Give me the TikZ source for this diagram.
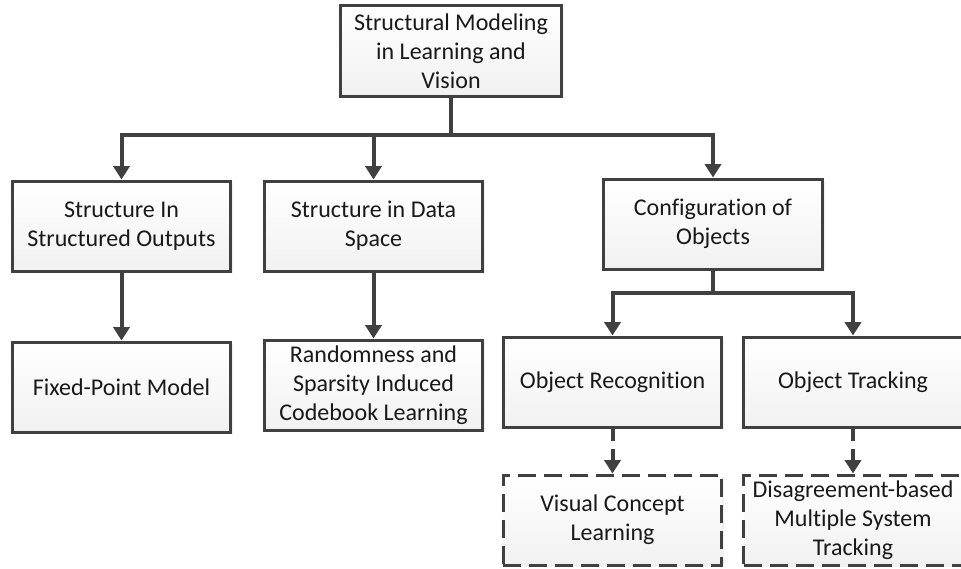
\documentclass[tikz,border=0pt]{standalone}
\usepackage{fontspec}
\setmainfont{Carlito}[Ligatures=NoCommon]
\usetikzlibrary{positioning,arrows.meta,shadows}
\definecolor{linegray}{HTML}{404040}

\begin{document}
\begin{tikzpicture}[
        % define styles
        x=0.3mm, y=-0.3mm,
        box/.style={
            rectangle,
            draw=linegray,
            line width=0.9mm,
            top color=white,
            bottom color=gray!11,
            drop shadow={shadow xshift=0.7mm, shadow yshift=-0.7mm, opacity=0.12, fill=gray},
            minimum width=65.5mm,
            minimum height=27mm,
            align=center,
            text=black!90,
            font=\fontsize{20.5}{24.8}\selectfont
        },
        dbox/.style={
            box,
            dash pattern=on 5.4mm off 2.4mm
        },
        line/.style={
            draw=linegray,
            line width=1.2mm
        },
        link/.style={
            line,
            -{Triangle[length=4mm,width=4.8mm]}
        },
        dlink/.style={
            link,
            dash pattern=on 3.6mm off 2.4mm
        }
    ]
    \useasboundingbox (0,0) rectangle (961,568);

    % top node
    \node[box, minimum width=66.5mm] (root) at (451,51)
        {Structural Modeling\\in Learning and\\Vision};

    % second level
    \node[box] (sso) at (121.5,226) {Structure In\\Structured Outputs};
    \node[box] (sds) at (373.5,226) {Structure in Data\\Space};
    \node[box] (cfg) at (713,224) {Configuration of\\Objects};

    % third level
    \node[box] (fpm) at (121.5,387) {Fixed-Point Model};
    \node[box] (rsc) at (373.5,385) {Randomness and\\Sparsity Induced\\Codebook Learning};
    \node[box] (orec) at (612.5,382) {Object Recognition};
    \node[box] (otrk) at (853,382) {Object Tracking};

    % dashed bottom level
    \node[dbox] (vcl) at (612.5,520) {Visual Concept\\Learning};
    \node[dbox] (dmst) at (853,520) {Disagreement-based\\Multiple System\\Tracking};

    % fork from top node to second level
    \coordinate (rootfork) at (451,135);
    \draw[line] (root.south) -- (rootfork);
    \foreach \n in {sso,sds,cfg}
    \draw[link] (rootfork) -| (\n.north);

    % fork from configuration node
    \coordinate (cfgfork) at (713,293);
    \draw[line] (cfg.south) -- (cfgfork);
    \foreach \n in {orec,otrk}
    \draw[link] (cfgfork) -| (\n.north);

    % straight links down
    \draw[link] (sso) -- (fpm);
    \draw[link] (sds) -- (rsc);
    \draw[dlink] (orec) -- (vcl);
    \draw[dlink] (otrk) -- (dmst);
\end{tikzpicture}
\end{document}
